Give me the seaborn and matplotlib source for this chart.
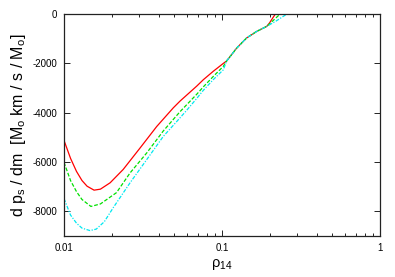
import numpy as np
import pandas as pd
import matplotlib
matplotlib.use("Agg")
import matplotlib.pyplot as plt
import seaborn as sns
from matplotlib.ticker import LogLocator, NullFormatter, FixedLocator

# rho_14 and d p_s / dm
rho_red = [0.01, 0.011, 0.012, 0.013, 0.014, 0.0155, 0.017, 0.0196, 0.0237, 0.0303,
           0.0386, 0.0492, 0.0542, 0.0692, 0.0762, 0.0880, 0.1019, 0.107, 0.124, 0.143,
           0.166, 0.192, 0.1995, 0.22, 0.23, 0.3, 0.5, 1.0]
dp_red = [-5120, -5850, -6380, -6750, -6980, -7140, -7100, -6840, -6300, -5430,
          -4560, -3800, -3530, -2920, -2660, -2320, -2000, -1900, -1374, -970,
          -699, -497, -364, 50, 0, 0, 0, 0]

rho_green = [0.01, 0.011, 0.012, 0.013, 0.0148, 0.017, 0.0215, 0.0262, 0.0334, 0.0425,
             0.0542, 0.0692, 0.0762, 0.0880, 0.1019, 0.107, 0.124, 0.143, 0.166, 0.192,
             0.205, 0.233, 0.3, 0.5, 1.0]
dp_green = [-6010, -6750, -7200, -7520, -7800, -7700, -7240, -6440, -5630, -4740,
            -3960, -3250, -2950, -2530, -2120, -1900, -1374, -970, -699, -497,
            -330, 0, 0, 0, 0]

rho_cyan = [0.01, 0.011, 0.012, 0.013, 0.0146, 0.016, 0.018, 0.0205, 0.0262, 0.0334,
            0.0425, 0.0542, 0.0598, 0.0692, 0.0762, 0.0880, 0.1019, 0.107, 0.124, 0.143,
            0.166, 0.192, 0.22, 0.257, 0.3, 0.5, 1.0]
dp_cyan = [-7480, -8150, -8480, -8680, -8780, -8720, -8420, -7850, -6840, -5900,
           -4960, -4210, -3900, -3420, -3090, -2660, -2260, -1900, -1374, -970,
           -699, -497, -280, 0, 0, 0, 0]

df = pd.concat([
    pd.DataFrame({"rho": rho_red, "dp": dp_red, "run": "a"}),
    pd.DataFrame({"rho": rho_green, "dp": dp_green, "run": "b"}),
    pd.DataFrame({"rho": rho_cyan, "dp": dp_cyan, "run": "c"}),
])

sns.set_style("ticks")
plt.rcParams['font.family'] = ['Liberation Sans', 'DejaVu Sans']
plt.rcParams['mathtext.fontset'] = 'custom'
plt.rcParams['mathtext.rm'] = 'Liberation Sans'
plt.rcParams['text.color'] = 'black'
plt.rcParams['axes.labelcolor'] = 'black'
plt.rcParams['xtick.color'] = 'black'
plt.rcParams['ytick.color'] = 'black'

fig = plt.figure(figsize=(3.95, 2.77), dpi=100)
ax = fig.add_axes([0.162, 0.148, 0.8, 0.801])

palette = {"a": "#ff0000", "b": "#00e000", "c": "#00e8f0"}
dashes = {"a": "", "b": (3, 1.5), "c": (3, 1.2, 1, 1.2)}
sns.lineplot(data=df, x="rho", y="dp", hue="run", style="run", palette=palette,
             dashes=dashes, sort=False, estimator=None, linewidth=0.9,
             legend=False, ax=ax)

ax.set_xscale("log")
ax.set_xlim(0.01, 1)
ax.set_ylim(-9000, 0)
ax.yaxis.set_major_locator(FixedLocator([0, -2000, -4000, -6000, -8000]))
ax.set_yticklabels(["0", "-2000", "-4000", "-6000", "-8000"])
ax.set_xticks([0.01, 0.1, 1])
ax.set_xticklabels(["0.01", "0.1", "1"])
ax.xaxis.set_minor_locator(LogLocator(base=10, subs=np.arange(2, 10)))
ax.xaxis.set_minor_formatter(NullFormatter())

ax.tick_params(which="both", direction="in", top=True, right=True,
               labelsize=7, width=0.6, pad=5)
ax.tick_params(which="major", length=4)
ax.tick_params(which="minor", length=2.5)
for s in ax.spines.values():
    s.set_linewidth(0.9)
    s.set_color("#222222")

ax.set_xlabel(r"ρ$_\mathregular{14}$", fontsize=10.5, labelpad=3)
ax.set_ylabel(r"d p$_\mathregular{s}$ / dm  [M$_\mathregular{o}$ km / s / M$_\mathregular{o}$]",
              fontsize=11.5, labelpad=3)

fig.savefig("out.png", dpi=100)
